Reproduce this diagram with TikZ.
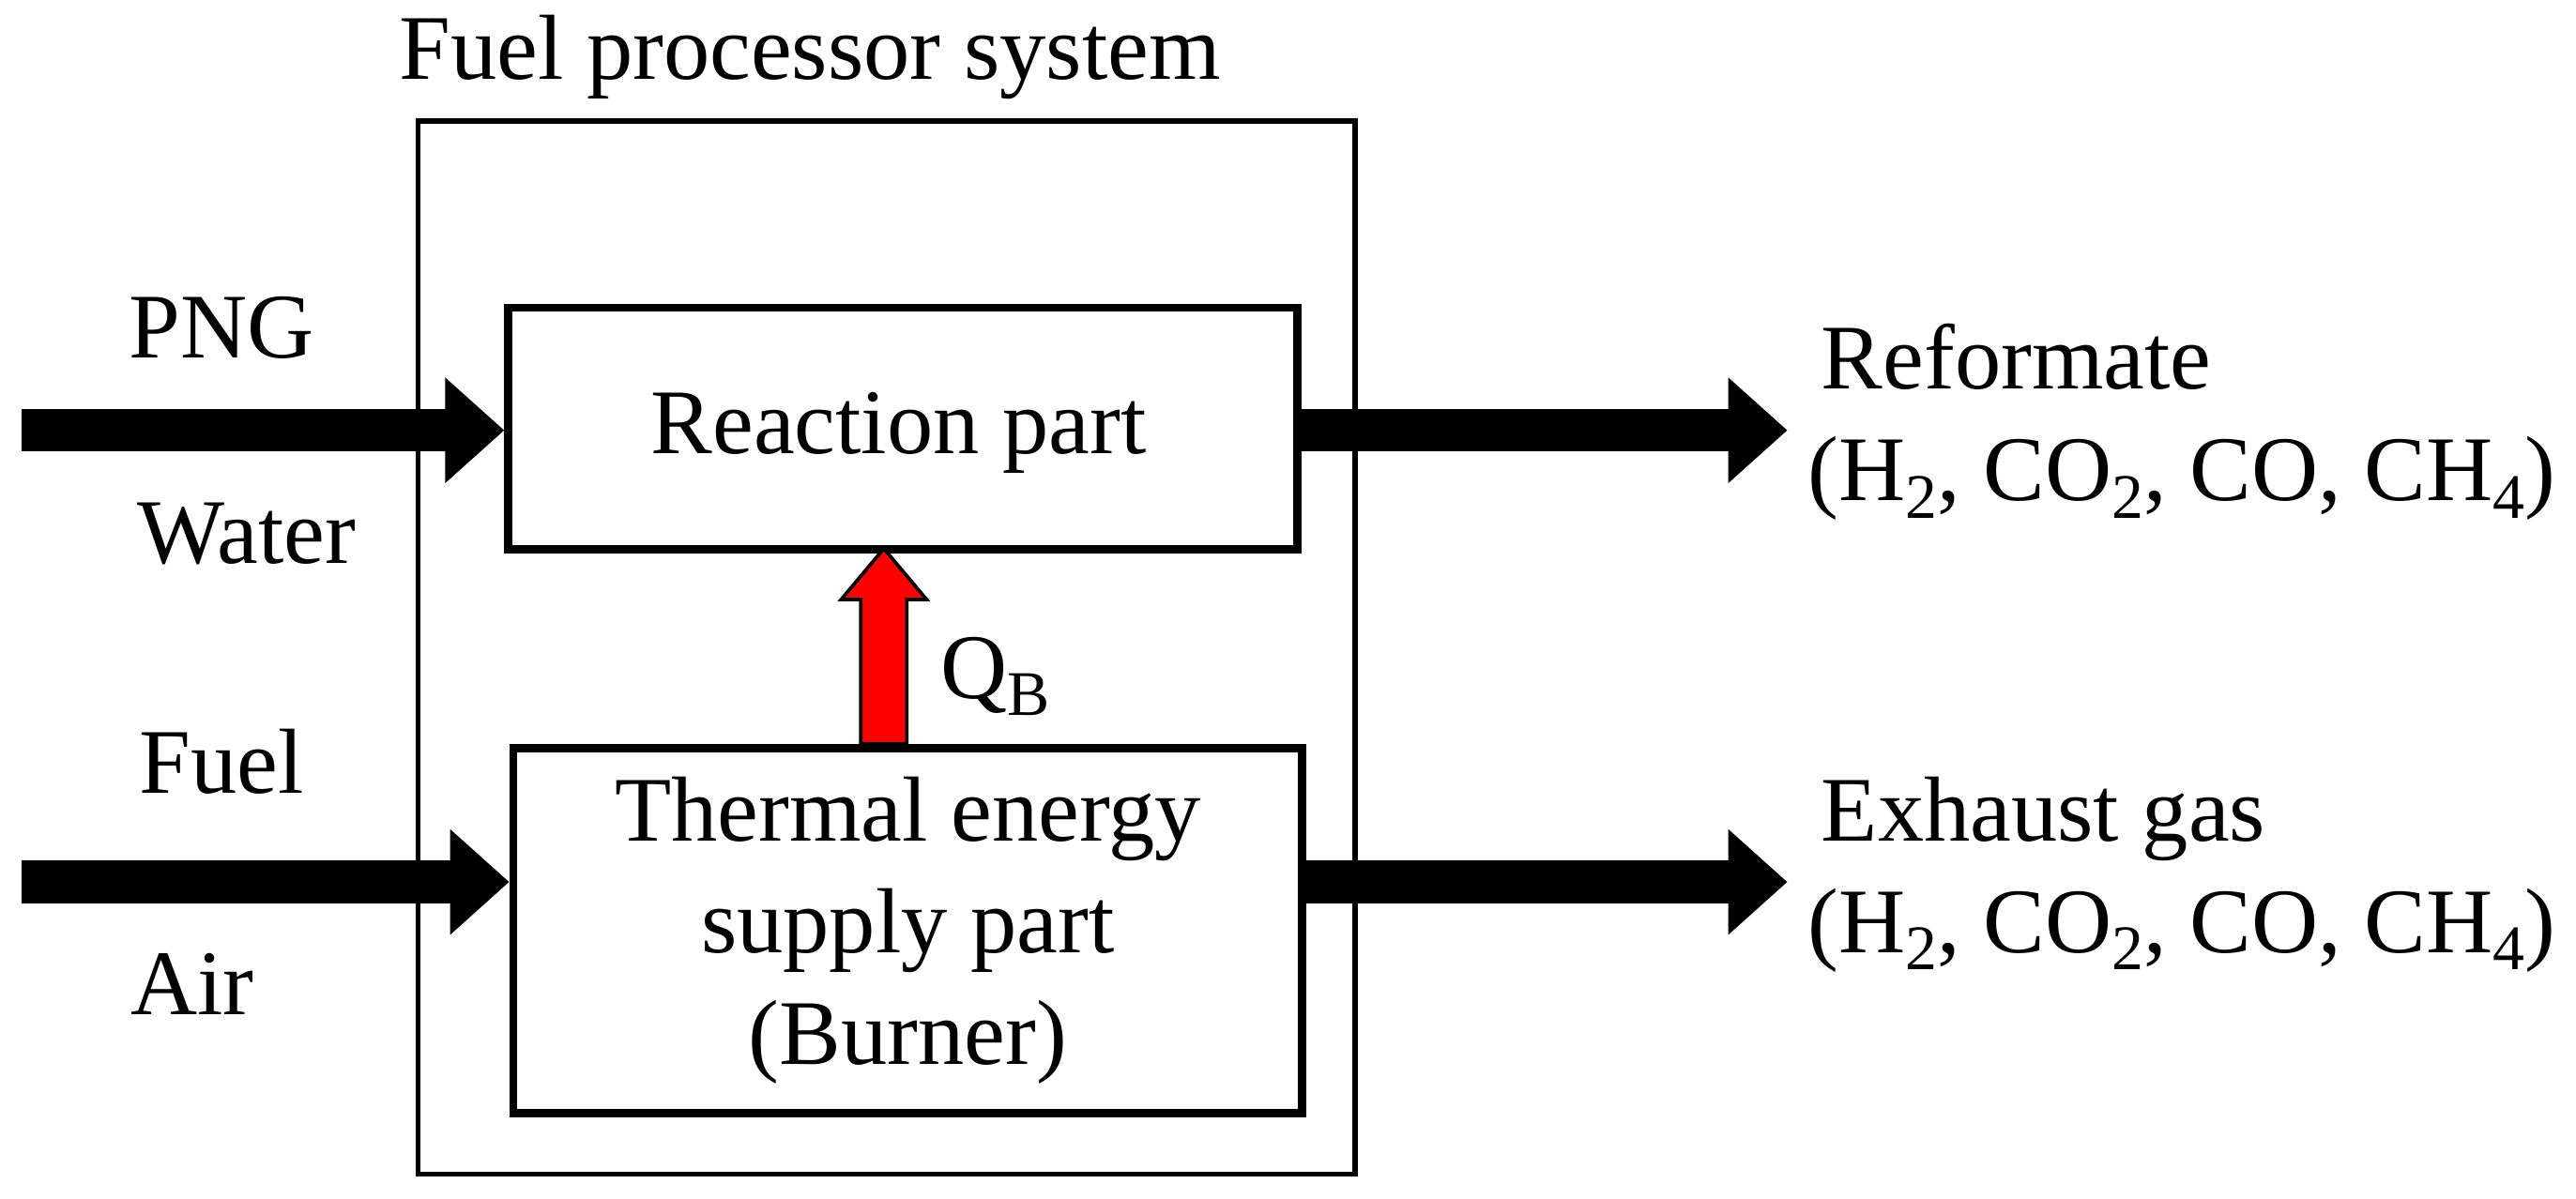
\documentclass[tikz,border=0pt]{standalone}
\usepackage{fontspec}
\setmainfont{Liberation Serif}
\usetikzlibrary{arrows.meta}
\newcommand{\sbs}[1]{\raisebox{-0.4ex}{\fontsize{11}{11}\selectfont #1}}
\begin{document}
\begin{tikzpicture}[x=0.01cm,y=-0.01cm,
  box/.style={draw,line width=1.4pt,inner sep=0pt},
  lbl/.style={font=\fontsize{16}{19.4}\selectfont,inner sep=0pt},
  fat/.style={line width=0.26cm,-{Triangle[width=0.62cm,length=0.36cm]}},
]
\useasboundingbox (0,0) rectangle (1568,730);
\node[draw,line width=0.9pt,minimum width=5.7cm,minimum height=6.41cm,anchor=north west] (sys) at (253,72) {};
\node[lbl,anchor=base] (syslbl) at (493,48) {Fuel processor system};
\node[box,minimum width=4.8cm,minimum height=1.47cm,anchor=north west] (rx) at (307,185) {};
\node[lbl,anchor=base] (rxl) at (547,276) {Reaction part};
\node[box,minimum width=4.8cm,minimum height=2.22cm,anchor=north west,lbl,align=center] (th) at (310,453) {Thermal energy\\ supply part\\ (Burner)};
\coordinate (a1) at (13,262);
\coordinate (a2) at (13,537);
\coordinate (b1) at (1088,262);
\coordinate (b2) at (1088,537);
\draw[fat] (a1) -- (rx.west|-a1);
\draw[fat] (a2) -- (th.west|-a2);
\draw[fat] (rx.east|-b1) -- (b1);
\draw[fat] (th.east|-b2) -- (b2);
\draw[draw=black,line width=0.6pt,fill=red] (524,453) -- (524,365) -- (512,365) -- (538,334) -- (564,365) -- (552,365) -- (552,453) -- cycle;
\node[lbl,anchor=base west] (q) at (572,425) {Q\sbs{B}};
\node[lbl,anchor=base] (png) at (135,218) {PNG};
\node[lbl,anchor=base] (water) at (150,343) {Water};
\node[lbl,anchor=base] (fuel) at (135,483) {Fuel};
\node[lbl,anchor=base] (air) at (117,618) {Air};
\node[lbl,anchor=base west] (ref) at (1108,237) {Reformate};
\node[lbl,anchor=base west] (refc) at (1100,305) {(H\sbs{2}, CO\sbs{2}, CO, CH\sbs{4})};
\node[lbl,anchor=base west] (ex) at (1108,512) {Exhaust gas};
\node[lbl,anchor=base west] (exc) at (1100,580) {(H\sbs{2}, CO\sbs{2}, CO, CH\sbs{4})};
\end{tikzpicture}
\end{document}
